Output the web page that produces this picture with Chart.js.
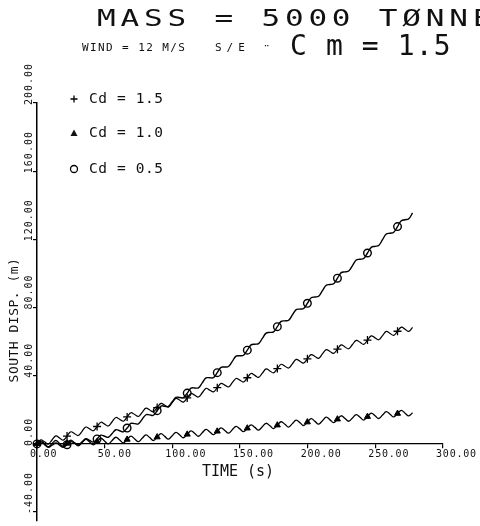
<!DOCTYPE html>
<html>
<head>
<meta charset="utf-8">
<script src="https://cdn.jsdelivr.net/npm/chart.js@4.4.0/dist/chart.umd.min.js"></script>
<style>
  html, body { margin: 0; padding: 0; background: #fff; }
  canvas { display: block; }
</style>
</head>
<body>
<canvas id="myChart" width="480" height="526"></canvas>
<script>
// time (s), sampled about 4 times per wave period
const times = [
  0.0, 2.8, 5.6, 8.3, 11.1, 13.9, 16.7, 19.4, 22.2, 25.0,
  27.8, 30.5, 33.3, 36.1, 38.9, 41.6, 44.4, 47.2, 50.0, 52.7,
  55.5, 58.3, 61.1, 63.8, 66.6, 69.4, 72.2, 74.9, 77.7, 80.5,
  83.3, 86.0, 88.8, 91.6, 94.4, 97.1, 99.9, 102.7, 105.5, 108.2,
  111.0, 113.8, 116.6, 119.3, 122.1, 124.9, 127.7, 130.4, 133.2, 136.0,
  138.8, 141.5, 144.3, 147.1, 149.9, 152.6, 155.4, 158.2, 161.0, 163.7,
  166.5, 169.3, 172.1, 174.8, 177.6, 180.4, 183.2, 185.9, 188.7, 191.5,
  194.3, 197.0, 199.8, 202.6, 205.4, 208.1, 210.9, 213.7, 216.5, 219.2,
  222.0, 224.8, 227.6, 230.3, 233.1, 235.9, 238.7, 241.4, 244.2, 247.0,
  249.8, 252.5, 255.3, 258.1, 260.9, 263.6, 266.4, 269.2, 272.0, 274.7,
  277.5
];

// south displacement (m)
const cd15 = [
  0, 2.4, 1.2, -0.1, 2.3, 4.7, 3.5, 2.2, 4.6, 7.1,
  6.0, 4.9, 7.4, 9.9, 8.8, 7.7, 10.2, 12.7, 11.6, 10.5,
  13.0, 15.5, 14.4, 13.3, 15.8, 18.3, 17.2, 16.1, 18.5, 21.0,
  19.9, 18.8, 21.3, 23.8, 22.7, 21.6, 24.2, 26.7, 25.6, 24.5,
  27.0, 29.6, 28.5, 27.5, 30.0, 32.6, 31.5, 30.5, 33.0, 35.5,
  34.5, 33.4, 35.9, 38.4, 37.4, 36.3, 38.8, 41.3, 40.2, 39.0,
  41.5, 44.0, 42.8, 41.7, 44.2, 46.7, 45.6, 44.5, 47.0, 49.6,
  48.5, 47.4, 49.9, 52.4, 51.3, 50.2, 52.8, 55.3, 54.2, 53.1,
  55.6, 58.1, 56.9, 55.8, 58.3, 60.7, 59.6, 58.4, 60.9, 63.4,
  62.2, 61.1, 63.5, 66.0, 64.8, 63.7, 66.1, 68.5, 67.3, 66.0,
  68.4
];
const cd10 = [
  0, 1.8, 0.1, -1.7, 0.2, 2.0, 0.2, -1.5, 0.3, 2.2,
  0.6, -1.1, 0.8, 2.7, 1.1, -0.6, 1.3, 3.3, 1.6, 0.0,
  2.0, 3.9, 2.3, 0.6, 2.6, 4.6, 2.9, 1.3, 3.3, 5.3,
  3.7, 2.0, 4.0, 6.0, 4.4, 2.8, 4.8, 6.8, 5.2, 3.6,
  5.6, 7.6, 6.1, 4.5, 6.5, 8.5, 7.0, 5.4, 7.4, 9.4,
  7.9, 6.3, 8.3, 10.3, 8.8, 7.2, 9.2, 11.2, 9.7, 8.1,
  10.1, 12.1, 10.6, 9.0, 11.0, 13.0, 11.5, 9.9, 11.9, 13.9,
  12.4, 10.8, 12.8, 14.8, 13.2, 11.6, 13.6, 15.7, 14.1, 12.5,
  14.5, 16.5, 14.9, 13.3, 15.2, 17.2, 15.6, 14.0, 16.0, 18.0,
  16.5, 14.9, 16.9, 18.9, 17.4, 15.8, 17.8, 19.7, 18.0, 16.4,
  18.3
];
const cd05 = [
  0, 1.2, -0.4, -2.0, -0.8, 0.6, -0.7, -2.0, -0.5, 1.3,
  0.4, -0.6, 1.2, 3.0, 2.0, 1.1, 2.9, 5.1, 4.5, 3.9,
  6.1, 8.3, 7.7, 7.1, 9.3, 12.0, 11.9, 11.7, 14.4, 17.1,
  17.0, 16.8, 19.5, 22.2, 22.1, 22.0, 24.7, 27.3, 27.2, 27.1,
  29.8, 32.7, 32.8, 32.9, 35.8, 38.7, 38.8, 38.9, 41.8, 44.9,
  45.1, 45.4, 48.4, 51.5, 51.7, 52.0, 55.0, 58.1, 58.5, 58.8,
  61.9, 65.0, 65.4, 65.7, 68.8, 71.9, 72.2, 72.5, 75.7, 78.8,
  79.1, 79.4, 82.5, 85.7, 86.2, 86.6, 89.9, 93.1, 93.5, 94.0,
  97.2, 100.5, 100.9, 101.4, 104.6, 107.9, 108.3, 108.8, 112.0, 115.3,
  115.9, 116.4, 119.8, 123.1, 123.6, 124.2, 127.5, 130.9, 131.5, 132.1,
  135.5
];

const seriesNames = ["Cd = 1.5", "Cd = 1.0", "Cd = 0.5"];
const xTicks = [0, 50, 100, 150, 200, 250, 300];
const xTickLabels = ["0.00", "50.00", "100.00", "150.00", "200.00", "250.00", "300.00"];
const yTicks = [-40, 0, 40, 80, 120, 160, 200];
const yTickLabels = ["-40.00", "0.00", "40.00", "80.00", "120.00", "160.00", "200.00"];

const markerEvery = 8;
const mono = "'DejaVu Sans Mono', 'Liberation Mono', monospace";

function pts(ys) {
  return times.map((t, i) => ({ x: t, y: ys[i] }));
}
function marker(r) {
  return (c) => (c.dataIndex % markerEvery === 0 ? r : 0);
}

function txt(ctx, s, x, y, font, spacing) {
  ctx.font = font;
  ctx.letterSpacing = spacing + "px";
  ctx.fillText(s, x, y);
}

// all the lettering of the plot
const plotText = {
  id: "plotText",
  afterDraw(chart) {
    const ctx = chart.ctx;
    const xs = chart.scales.x;
    const ys = chart.scales.y;
    const y0 = ys.getPixelForValue(0);
    ctx.save();
    ctx.fillStyle = "#111";
    ctx.strokeStyle = "#000";

    // x tick labels
    ctx.textAlign = "left";
    ctx.textBaseline = "middle";
    xTicks.forEach((v, i) => {
      txt(ctx, xTickLabels[i], xs.getPixelForValue(v) - 7, y0 + 11, "10px " + mono, 0.8);
    });

    // y tick labels, turned
    yTicks.forEach((v, i) => {
      ctx.save();
      ctx.translate(29, ys.getPixelForValue(v) + 2);
      ctx.rotate(-Math.PI / 2);
      txt(ctx, yTickLabels[i], 0, 0, "10px " + mono, 1);
      ctx.restore();
    });

    // axis titles
    ctx.textAlign = "center";
    txt(ctx, "TIME (s)", 238, 472, "15px " + mono, 0);
    ctx.save();
    ctx.translate(15, 320);
    ctx.rotate(-Math.PI / 2);
    txt(ctx, "SOUTH DISP. (m)", 0, 0, "13px " + mono, 0.5);
    ctx.restore();

    // headings
    ctx.textAlign = "left";
    ctx.save();
    ctx.translate(97, 20);
    ctx.scale(1.35, 1);
    txt(ctx, "MASS = 5000 TØNNE", 0, 0, "23px " + mono, 3.55);
    ctx.restore();
    txt(ctx, "WIND = 12 M/S", 82, 48, "11px " + mono, 1.4);
    txt(ctx, "S/E", 215, 48, "11px " + mono, 5);
    ctx.textBaseline = "alphabetic";
    txt(ctx, "¨", 263, 54, "12px " + mono, 0);
    ctx.textBaseline = "middle";
    txt(ctx, "C m = 1.5", 290, 48, "28px " + mono, 1.1);

    // legend
    const lx = 74;
    const ly = [99, 133, 169];
    ctx.lineWidth = 1.3;
    ctx.beginPath();
    ctx.moveTo(lx - 3.5, ly[0]); ctx.lineTo(lx + 3.5, ly[0]);
    ctx.moveTo(lx, ly[0] - 3.5); ctx.lineTo(lx, ly[0] + 3.5);
    ctx.stroke();
    ctx.beginPath();
    ctx.moveTo(lx - 3.5, ly[1] + 3); ctx.lineTo(lx + 3.5, ly[1] + 3); ctx.lineTo(lx, ly[1] - 3.5);
    ctx.closePath();
    ctx.fill();
    ctx.beginPath();
    ctx.arc(lx, ly[2], 3.5, 0, Math.PI * 2);
    ctx.stroke();
    seriesNames.forEach((s, i) => {
      txt(ctx, s, 89, ly[i], "14.5px " + mono, 0.6);
    });

    ctx.letterSpacing = "0px";
    ctx.restore();
  }
};

new Chart("myChart", {
  type: "line",
  data: {
    datasets: [
      {
        label: seriesNames[0],
        data: pts(cd15),
        borderColor: "#000",
        borderWidth: 1.2,
        tension: 0.4,
        pointStyle: "cross",
        pointRadius: marker(4),
        pointBorderColor: "#000",
        pointBorderWidth: 1.3,
        clip: 8
      },
      {
        label: seriesNames[1],
        data: pts(cd10),
        borderColor: "#000",
        borderWidth: 1.3,
        tension: 0.4,
        pointStyle: "triangle",
        pointRadius: marker(3.5),
        pointBackgroundColor: "#000",
        pointBorderColor: "#000",
        pointBorderWidth: 1,
        clip: 8
      },
      {
        label: seriesNames[2],
        data: pts(cd05),
        borderColor: "#000",
        borderWidth: 1.4,
        tension: 0.4,
        pointStyle: "circle",
        pointRadius: marker(3.8),
        pointBackgroundColor: "rgba(255,255,255,0)",
        pointBorderColor: "#000",
        pointBorderWidth: 1.4,
        clip: 8
      }
    ]
  },
  options: {
    responsive: false,
    animation: false,
    layout: { padding: { top: 103, right: 37, bottom: 0, left: 0 } },
    plugins: {
      legend: { display: false },
      tooltip: { enabled: false },
      title: { display: false }
    },
    scales: {
      x: {
        type: "linear",
        position: { y: 0 },
        min: 0,
        max: 300,
        afterBuildTicks: (s) => { s.ticks = xTicks.map((v) => ({ value: v })); },
        afterFit: (s) => { s.height = 0; },
        ticks: { display: false },
        grid: { drawOnChartArea: false, drawTicks: true, tickLength: 4, color: "#000", lineWidth: 1.2 },
        border: { display: true, color: "#000", width: 1.3 }
      },
      y: {
        type: "linear",
        position: "left",
        min: -45,
        max: 200,
        afterBuildTicks: (s) => { s.ticks = yTicks.map((v) => ({ value: v })); },
        afterFit: (s) => { s.width = 37; },
        ticks: { display: false },
        grid: { drawOnChartArea: false, drawTicks: true, tickLength: 4, color: "#000", lineWidth: 1.2 },
        border: { display: true, color: "#000", width: 1.5 }
      }
    }
  },
  plugins: [plotText]
});
</script>
</body>
</html>
